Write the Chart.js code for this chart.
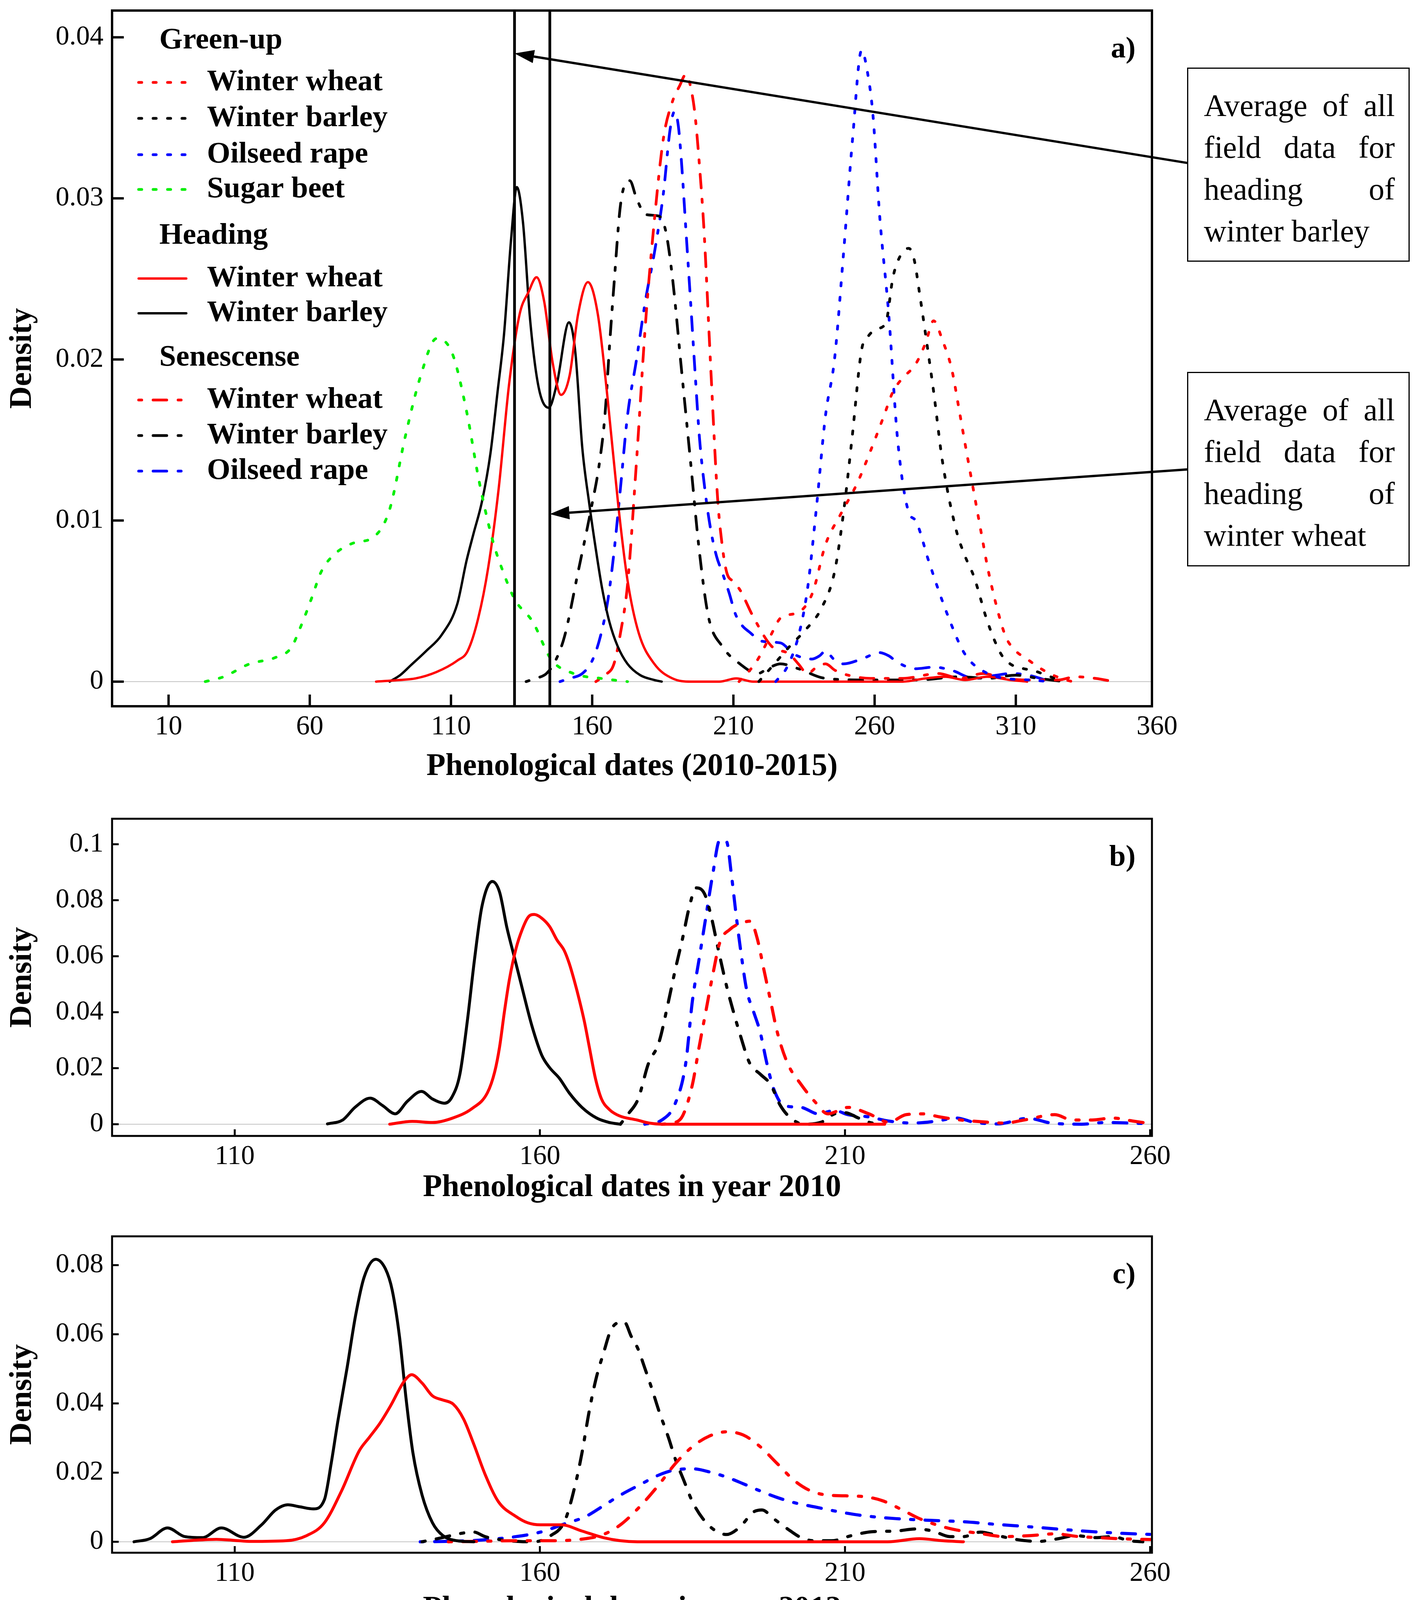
<!DOCTYPE html>
<html>
<head>
<meta charset="utf-8">
<script src="https://cdn.jsdelivr.net/npm/chart.js@4.4.1/dist/chart.umd.min.js"></script>
<style>
  body { margin: 0; background: #fff; width: 3639px; height: 4179px; position: relative; overflow: hidden; }
  canvas { position: absolute; left: 0; }
  .note {
    position: absolute; left: 3040px; width: 570px; box-sizing: border-box;
    border: 3px solid #000; background: #fff; z-index: 2;
    padding: 41px 35px 0 40px;
    font-family: "Liberation Serif", "Times New Roman", serif; font-size: 80px; line-height: 107px; color: #000;
  }
  .note div { text-align: justify; text-align-last: justify; white-space: nowrap; }
  .note div.last { text-align-last: left; }
</style>
</head>
<body>
<canvas id="chartA" width="3639" height="2040" style="top:0px"></canvas>
<canvas id="chartB" width="3639" height="1090" style="top:2040px"></canvas>
<canvas id="chartC" width="3639" height="1049" style="top:3130px"></canvas>

<div class="note" style="top:173px;height:497px">
  <div>Average of all</div><div>field data for</div><div>heading of</div><div class="last">winter barley</div>
</div>
<div class="note" style="top:952px;height:498px">
  <div>Average of all</div><div>field data for</div><div>heading of</div><div class="last">winter wheat</div>
</div>

<script>
// ---- labels / ticks ----
const crops = ['Winter wheat', 'Winter barley', 'Oilseed rape', 'Sugar beet'];
const stages = ['Green-up', 'Heading', 'Senescense'];
const xTicksA = [10, 60, 110, 160, 210, 260, 310, 360];
const yTicksA = [0, 0.01, 0.02, 0.03, 0.04];
const xTicksBC = [110, 160, 210, 260];
const yTicksB = [0, 0.02, 0.04, 0.06, 0.08, 0.1];
const yTicksC = [0, 0.02, 0.04, 0.06, 0.08];

// field averages of heading (day of year): barley, wheat
const avgHeading = [132.5, 145];
// arrows from the note boxes to the average lines: [tailX, tailY, tipX, tipY]
const arrows = [
  [370.7, 0.0322, avgHeading[0], 0.039],
  [370.7, 0.01317, avgHeading[1], 0.0104]
];

// ---- a) 2010-2015, [day, density] ----
const aGreenWheat = [[212,0],[218,0.0012],[223,0.0028],[227,0.004],[233,0.0043],[238,0.0055],[242.6,0.0085],[248,0.0104],[253.8,0.0123],[258.5,0.0143],[263.3,0.0165],[266.5,0.018],[269.7,0.0188],[274.5,0.0197],[278,0.021],[280.9,0.0224],[284,0.0212],[287.3,0.0194],[290,0.0168],[292,0.0148],[295.2,0.0117],[298,0.009],[300,0.0071],[303,0.0048],[306.4,0.0028],[310,0.0019],[314,0.0014],[318,0.0009],[322,0.0005],[326,0.0002],[330,0]];
const aGreenBarley = [[219,0],[224,0.001],[230,0.0022],[236,0.0033],[241,0.0045],[245.8,0.0068],[249,0.0105],[252,0.0151],[255.4,0.0206],[258,0.0215],[261,0.0219],[264,0.0223],[266.5,0.0251],[269,0.0264],[272.1,0.0269],[274,0.0262],[276,0.024],[278.5,0.021],[280.9,0.018],[284,0.0137],[288.9,0.0094],[292,0.0078],[295.2,0.0065],[300,0.0037],[304.8,0.0017],[308,0.0011],[312.8,0.0008],[316,0.0007],[320.7,0.0004],[327,0]];
const aGreenRape = [[225,0],[229,0.0009],[233,0.0028],[236.2,0.0057],[239.4,0.0108],[242.6,0.0165],[245.8,0.02],[249,0.0266],[252.2,0.0337],[255.4,0.0392],[257.5,0.0378],[259.4,0.0352],[261.8,0.0289],[265,0.0228],[268.1,0.0151],[272.1,0.0105],[274.5,0.01],[279.3,0.0074],[285.7,0.0042],[292,0.0017],[300,0.0005],[306.4,0.0002],[315,0.0001],[322,0]];
const aGreenBeet = [[23,0],[29.5,0.0003],[38.7,0.0011],[47.9,0.0015],[53.4,0.0021],[57,0.0035],[60.7,0.0052],[64,0.0068],[68.1,0.0078],[75.4,0.0086],[82.8,0.009],[88.3,0.0107],[93.8,0.0152],[99.3,0.019],[104.9,0.0213],[110.4,0.0204],[115.5,0.0168],[119.9,0.0125],[124.7,0.0088],[128.5,0.0068],[132.6,0.0051],[139,0.0037],[145.4,0.0014],[153.4,0.0005],[163,0.0002],[172.5,0]];
const aHeadWheat = [[83.5,0],[92,0.0001],[97.5,0.0002],[104.9,0.0006],[112.2,0.0013],[115.9,0.0019],[119.6,0.0039],[123.2,0.0071],[126.9,0.012],[130.6,0.0185],[134.3,0.0228],[137.5,0.0242],[140.3,0.0251],[143,0.0236],[146,0.0198],[149,0.0178],[152,0.019],[155,0.0228],[158.5,0.0248],[162,0.0228],[165.5,0.0175],[169.2,0.011],[172.5,0.0063],[176.5,0.003],[182,0.0011],[188.4,0.0002],[195,0],[205,0],[211,0.0002],[217,0],[270,0],[278,0.0002],[285,0.0003],[292,0.0001],[300,0.0003],[308,0.0001],[314,0]];
const aHeadBarley = [[88.3,0],[92,0.0004],[95.7,0.001],[101.2,0.0019],[106.7,0.0029],[112.2,0.0048],[115.5,0.0075],[118,0.0092],[121,0.0112],[124,0.0142],[126.5,0.018],[128.8,0.0216],[131.3,0.0275],[133.3,0.0307],[135.5,0.0285],[138,0.0225],[141,0.0183],[144.6,0.017],[147.5,0.0185],[151.8,0.0223],[154,0.0205],[156.5,0.0145],[159,0.011],[161.3,0.0082],[163.5,0.0058],[166.1,0.0037],[169,0.0022],[172.5,0.0011],[177,0.0004],[182,0.0001],[184.6,0]];
const aSenWheat = [[161.3,0],[164.5,0.0004],[167.7,0.0011],[170,0.003],[172.5,0.006],[175.7,0.0137],[178.9,0.0223],[182,0.0286],[185.2,0.0337],[188.4,0.036],[191,0.037],[193.2,0.0377],[195,0.0368],[196.4,0.0352],[198,0.032],[199.6,0.028],[202,0.0194],[204.4,0.0114],[206,0.0085],[207.6,0.0068],[210,0.0062],[212.3,0.0057],[217.1,0.004],[223.5,0.0022],[229.9,0.0017],[233,0.0011],[236.2,0.0005],[239.5,0.0009],[242.6,0.0011],[246,0.0007],[250.6,0.0004],[258.6,0.0002],[270,0.0002],[282.5,0.0005],[290.4,0.0002],[298.4,0.0005],[306,0.0002],[314.4,0.0001],[325,0.0001],[331,0.0003],[338.3,0.0002],[344.6,0]];
const aSenBarley = [[136.6,0],[140,0.0002],[143.8,0.0005],[147,0.0013],[150.2,0.0028],[155,0.0068],[159.7,0.0108],[162.5,0.0135],[164.5,0.0165],[166.2,0.021],[167.7,0.0246],[170.1,0.0297],[173.3,0.0311],[175.7,0.03],[178.9,0.029],[183.6,0.0289],[186,0.028],[188.4,0.0251],[191.6,0.0194],[194.8,0.0137],[198,0.008],[201.2,0.004],[206,0.0022],[212.3,0.0011],[218.7,0.0005],[222,0.0008],[226.7,0.0011],[233,0.0008],[242.6,0.0002],[258.6,0.0001],[275,0.0001],[290,0.0003],[300,0.0002],[310,0.0004],[318,0.0002],[327,0]];
const aSenRape = [[148.6,0],[152,0.0002],[156.5,0.0005],[160,0.0013],[162.9,0.0028],[165.5,0.005],[167.7,0.008],[170,0.012],[172.5,0.0165],[175.7,0.02],[178.9,0.0237],[182,0.0266],[185.2,0.0303],[187.6,0.0343],[189.2,0.0354],[190.5,0.0345],[191.6,0.0323],[193.2,0.028],[194.8,0.0237],[196.5,0.019],[198,0.0151],[200,0.0118],[202,0.0094],[204,0.0078],[206,0.0068],[208.5,0.0055],[210.7,0.0042],[213,0.0035],[215.5,0.0031],[220.3,0.0025],[226.7,0.0024],[231.5,0.0017],[237.8,0.0014],[240.5,0.0016],[242.6,0.0019],[245.5,0.0014],[249,0.0011],[255.4,0.0014],[261.8,0.0018],[265,0.0016],[268.1,0.0012],[274.5,0.0008],[280.9,0.0009],[287.3,0.0007],[295.2,0.0002],[303.2,0.0004],[308,0.0005],[314.4,0.0004],[322.3,0]];

// ---- b) 2010 ----
const bHeadWheat = [[135.4,0],[139.1,0.001],[142.4,0.0006],[145.6,0.0021],[148.9,0.0056],[151.4,0.0112],[152.6,0.0187],[153.4,0.0276],[154.2,0.0403],[155,0.0516],[156.1,0.0628],[157.1,0.0695],[158.1,0.074],[159.1,0.0749],[160.3,0.0736],[161.6,0.0706],[162.8,0.0658],[164,0.062],[164.8,0.0575],[165.6,0.0516],[166.5,0.0441],[167.3,0.0366],[168.1,0.0276],[169.1,0.0164],[170.1,0.009],[171.4,0.0052],[173,0.003],[175.9,0.0015],[177.9,0.0004],[180,0],[216.5,0]];
const bHeadBarley = [[125.2,0.0001],[127.7,0.0015],[129.7,0.006],[132.2,0.0093],[134.2,0.0067],[136.3,0.0037],[138.3,0.0082],[140.6,0.0117],[142.4,0.009],[144.4,0.0075],[145.6,0.0097],[146.9,0.0179],[148.1,0.0366],[149.3,0.059],[150.5,0.0777],[152.2,0.0867],[153.4,0.0829],[154.6,0.0702],[155.9,0.059],[157.1,0.0486],[158.7,0.0351],[160.3,0.0247],[161.6,0.0202],[163.2,0.0164],[164.8,0.0112],[166.9,0.006],[169.3,0.0022],[171.4,0.0006],[173.2,0]];
const bSenWheat = [[180,0],[181.7,0.0004],[183.4,0.003],[185,0.0142],[186.1,0.0276],[187.2,0.0403],[188.3,0.053],[189.5,0.065],[191.1,0.0695],[192.8,0.0717],[194.5,0.0725],[195.6,0.0665],[196.7,0.0553],[197.8,0.0441],[198.9,0.0329],[200.6,0.0217],[202.8,0.0142],[205,0.0082],[207.2,0.0037],[210.5,0.006],[213.9,0.0037],[217.2,0.0007],[220,0.0034],[222.8,0.0037],[225.5,0.0026],[228.9,0.0015],[232.2,0.0009],[236.1,0.0004],[239.4,0.0015],[244.4,0.0034],[247.2,0.0015],[250.5,0.0015],[253.8,0.0022],[257.2,0.0011],[260.5,0.0001]];
const bSenBarley = [[173.2,0],[174.5,0.0037],[176.1,0.009],[177.8,0.0217],[179.5,0.0291],[181.1,0.0441],[182.2,0.0553],[183.4,0.0665],[184.5,0.0777],[185.6,0.0844],[187,0.0822],[188.1,0.074],[189.2,0.0628],[190.6,0.0493],[191.7,0.0403],[192.8,0.0321],[194.4,0.0217],[196.1,0.0179],[197.8,0.0142],[199.4,0.0067],[201.1,0.0022],[203.3,0],[206.1,0.0007],[208.3,0.0037],[210,0.0041],[212.2,0.0022],[213.9,0.0007],[215.5,0]];
const bSenRape = [[177.2,0],[180,0.0015],[182.2,0.0075],[183.9,0.0217],[185,0.0441],[186.1,0.059],[187.2,0.074],[188.3,0.0889],[189.5,0.1016],[190.6,0.1009],[191.4,0.0889],[192.2,0.074],[193.1,0.059],[193.9,0.0478],[195,0.0403],[196.1,0.0329],[197.2,0.0217],[198.3,0.0127],[200,0.0067],[202.8,0.006],[205.6,0.0037],[208.3,0.0049],[210.5,0.0034],[213.9,0.0026],[217.2,0.0011],[221.1,0.0004],[225,0.0011],[228.3,0.0022],[231.1,0.0007],[235,0.0001],[240,0.0021],[243.8,0.0004],[248.8,0],[252.7,0.0006],[256.6,0.0004],[260.5,0.0001]];

// ---- c) 2012 ----
const cHeadWheat = [[99.8,0],[103,0.0004],[107,0.0007],[110,0.0004],[112.7,0.0001],[118.4,0.0003],[121.8,0.0018],[124.7,0.0055],[127.5,0.0147],[130.4,0.0263],[132.1,0.0303],[133.8,0.0343],[135.5,0.0392],[137.8,0.0465],[139,0.0483],[140.7,0.0459],[142.4,0.0422],[144.1,0.041],[145.8,0.0398],[147.5,0.0355],[149.2,0.0281],[151,0.0196],[153.2,0.0116],[156.1,0.0073],[158,0.0055],[160.1,0.0049],[163.5,0.0049],[166.9,0.0031],[170.4,0.0012],[173.2,0.0003],[176,0],[217,0],[222.2,0.0009],[226,0.0003],[229.4,0]];
const cHeadBarley = [[93.5,0],[96.1,0.0009],[99,0.004],[101.8,0.0015],[104.7,0.0012],[107.8,0.004],[111.5,0.0013],[114.4,0.0049],[116.7,0.0092],[118.7,0.0107],[120.7,0.0101],[122.9,0.0095],[124.7,0.0122],[125.8,0.0226],[126.9,0.0349],[128.4,0.0502],[129.8,0.0654],[131.2,0.0765],[133.1,0.0817],[134.7,0.0789],[135.8,0.0728],[137,0.0593],[138.1,0.041],[139.2,0.0257],[140.7,0.0135],[142.4,0.0055],[144.1,0.0018],[146.4,0.0003],[149.2,0]];
const cSenWheat = [[145,0],[149.2,0.0001],[156.1,0.0003],[161.8,0.0003],[167.5,0.0009],[170.4,0.0021],[173.2,0.0049],[176.4,0.0102],[179.5,0.0165],[182.2,0.0226],[185,0.0275],[187.8,0.0306],[190.6,0.0318],[193.3,0.0309],[196.1,0.0275],[198.9,0.0226],[201.7,0.0177],[204.4,0.0147],[207.2,0.0135],[212.8,0.0131],[216.1,0.0119],[219.4,0.0092],[222.2,0.0067],[225,0.0049],[228.3,0.0034],[232.2,0.0024],[236.1,0.0015],[240.5,0.0018],[244.4,0.0023],[248.3,0.0015],[251.6,0.0012],[254.9,0.0009],[261,0.0006]];
const cSenBarley = [[140.7,0],[144,0.0012],[147,0.0024],[149.2,0.0028],[151,0.0015],[155,0.0003],[159,0],[161.8,0.0018],[164.1,0.0061],[165.8,0.0165],[166.9,0.0257],[168.1,0.0379],[169.2,0.0471],[170.4,0.0544],[171.8,0.0618],[173.8,0.0636],[175,0.0593],[176.1,0.0557],[177.2,0.0502],[178.4,0.044],[179.5,0.0379],[181.1,0.03],[182.2,0.0239],[183.6,0.0177],[185,0.0116],[186.7,0.0067],[188.6,0.0034],[190.6,0.0021],[192.8,0.0043],[195,0.0086],[196.4,0.0092],[198.3,0.0067],[200.6,0.0037],[202.8,0.0012],[205,0.0003],[207.8,0.0003],[211.1,0.0018],[214.4,0.0029],[218.3,0.0031],[221.6,0.0037],[224.4,0.0031],[227.2,0.0015],[229.4,0.0015],[232.2,0.0028],[235,0.0018],[238.3,0.0006],[241.6,0.0001],[245,0.0009],[247.7,0.0018],[251.1,0.0012],[253.8,0.0015],[256.6,0.0003],[258.8,0]];
const cSenRape = [[140.4,0],[144.7,0.0001],[150.4,0.0005],[156.1,0.0015],[160.1,0.0028],[164.1,0.0052],[167.5,0.0073],[170.4,0.0104],[173.2,0.0135],[176.4,0.0165],[179.5,0.0193],[182.2,0.0208],[185,0.0211],[187.8,0.0202],[190.6,0.0187],[193.3,0.0168],[196.1,0.0147],[198.9,0.0128],[201.7,0.0113],[205,0.0101],[208.3,0.0089],[212.8,0.0076],[218.3,0.0067],[223.9,0.0062],[229.4,0.0058],[235,0.005],[240.5,0.0043],[246.1,0.0035],[251.6,0.0028],[257.2,0.0023],[261,0.0021]];

// ---- styles ----
const SERIF = '"Liberation Serif", "Times New Roman", serif';
const RED = '#ff0000', BLACK = '#000000', BLUE = '#0000ff', GREEN = '#00ee00';
// R-like lty with round caps: dotted and dot-dash
const DOT = [8, 29];
const DOTDASH = [8, 29, 35, 29];

function curve(label, pts, color, dash, width) {
  return {
    label: label,
    data: pts.map(p => ({ x: p[0], y: p[1] })),
    borderColor: color,
    borderDash: dash,
    borderWidth: width,
    borderCapStyle: 'round',
    borderJoinStyle: 'round',
    pointRadius: 0,
    fill: false,
    cubicInterpolationMode: 'monotone'
  };
}

// box, inward ticks, zero line and panel letter
const framePlugin = {
  id: 'frame',
  beforeDatasetsDraw(chart, args, opts) {
    const { ctx, chartArea: a, scales: { y } } = chart;
    const y0 = y.getPixelForValue(0);
    ctx.save();
    ctx.strokeStyle = '#c4c4c4';
    ctx.lineWidth = 2;
    ctx.beginPath(); ctx.moveTo(a.left, y0); ctx.lineTo(a.right, y0); ctx.stroke();
    ctx.restore();
  },
  afterDraw(chart, args, opts) {
    const { ctx, chartArea: a, scales: { x, y } } = chart;
    ctx.save();
    ctx.strokeStyle = '#000';
    ctx.lineWidth = opts.lineWidth;
    ctx.strokeRect(a.left, a.top, a.right - a.left, a.bottom - a.top);
    ctx.beginPath();
    x.ticks.forEach(t => {
      const px = x.getPixelForValue(t.value);
      if (px < a.left || px > a.right) return;
      ctx.moveTo(px, a.bottom); ctx.lineTo(px, a.bottom - opts.tick);
    });
    y.ticks.forEach(t => {
      const py = y.getPixelForValue(t.value);
      ctx.moveTo(a.left, py); ctx.lineTo(a.left + opts.tick, py);
    });
    ctx.stroke();
    ctx.fillStyle = '#000';
    ctx.font = 'bold 76px ' + SERIF;
    ctx.textAlign = 'right';
    ctx.textBaseline = 'middle';
    ctx.fillText(opts.tag, a.right - 42, a.top + 100);
    ctx.restore();
  }
};

// vertical average lines + arrows (panel a)
const fieldPlugin = {
  id: 'fieldAvg',
  afterDatasetsDraw(chart) {
    const { ctx, chartArea: a, scales: { x, y } } = chart;
    ctx.save();
    ctx.strokeStyle = '#000';
    ctx.fillStyle = '#000';
    ctx.lineWidth = 7;
    avgHeading.forEach(v => {
      const px = x.getPixelForValue(v);
      ctx.beginPath(); ctx.moveTo(px, a.top); ctx.lineTo(px, a.bottom); ctx.stroke();
    });
    ctx.lineWidth = 6;
    arrows.forEach(ar => {
      const x1 = x.getPixelForValue(ar[0]), y1 = y.getPixelForValue(ar[1]);
      const x2 = x.getPixelForValue(ar[2]), y2 = y.getPixelForValue(ar[3]);
      const ang = Math.atan2(y2 - y1, x2 - x1);
      const len = 50, half = 17;
      const bx = x2 - len * Math.cos(ang), by = y2 - len * Math.sin(ang);
      ctx.beginPath(); ctx.moveTo(x1, y1); ctx.lineTo(bx, by); ctx.stroke();
      ctx.beginPath();
      ctx.moveTo(x2, y2);
      ctx.lineTo(bx + half * Math.sin(ang), by - half * Math.cos(ang));
      ctx.lineTo(bx - half * Math.sin(ang), by + half * Math.cos(ang));
      ctx.closePath(); ctx.fill();
    });
    ctx.restore();
  }
};

// grouped legend (panel a)
const legendPlugin = {
  id: 'groupLegend',
  afterDraw(chart, args, opts) {
    const { ctx, chartArea: a } = chart;
    ctx.save();
    ctx.fillStyle = '#000';
    ctx.textAlign = 'left';
    ctx.textBaseline = 'middle';
    ctx.font = 'bold 77px ' + SERIF;
    ctx.lineCap = 'round';
    opts.rows.forEach((row, i) => {
      const yy = a.top + opts.rowY[i];
      if (typeof row === 'string') {
        ctx.fillText(row, a.left + opts.headX, yy);
        return;
      }
      const ds = chart.data.datasets[row];
      ctx.strokeStyle = ds.borderColor;
      ctx.lineWidth = ds.borderWidth;
      ctx.setLineDash(ds.borderDash || []);
      ctx.beginPath();
      ctx.moveTo(a.left + opts.lineX[0], yy);
      ctx.lineTo(a.left + opts.lineX[1], yy);
      ctx.stroke();
      ctx.setLineDash([]);
      ctx.fillText(ds.label, a.left + opts.textX, yy);
    });
    ctx.restore();
  }
};

function panel(id, datasets, o, extra) {
  return new Chart(document.getElementById(id), {
    type: 'line',
    data: { datasets: datasets },
    options: {
      responsive: false,
      devicePixelRatio: 1,
      animation: false,
      layout: { padding: { top: o.top, right: 689, left: 0, bottom: 0 } },
      plugins: {
        legend: { display: false },
        tooltip: { enabled: false },
        frame: { lineWidth: o.frameW, tick: o.tick, tag: o.tag },
        groupLegend: o.legend || {}
      },
      scales: {
        x: {
          type: 'linear',
          min: o.xMin, max: o.xMax,
          grid: { display: false, drawTicks: false },
          border: { display: false },
          afterBuildTicks: s => { s.ticks = o.xTicks.map(v => ({ value: v })); },
          afterFit: s => { s.height = o.xAxisH; s.paddingLeft = 0; s.paddingRight = 0; },
          ticks: { autoSkip: false, maxRotation: 0, padding: 12, color: '#000', font: { family: SERIF, size: 70 } },
          title: { display: true, text: o.xTitle, color: '#000', font: { family: SERIF, size: 80, weight: 'bold' }, padding: { top: 0, bottom: o.titlePad } }
        },
        y: {
          type: 'linear',
          min: o.yMin, max: o.yMax,
          grid: { display: false, drawTicks: false },
          border: { display: false },
          afterBuildTicks: s => { s.ticks = o.yTicks.map(v => ({ value: v })); },
          afterFit: s => { s.width = 287; s.paddingTop = 0; s.paddingBottom = 0; },
          ticks: { autoSkip: false, padding: 22, color: '#000', font: { family: SERIF, size: 70 }, callback: v => String(v) },
          title: { display: true, text: 'Density', color: '#000', font: { family: SERIF, size: 80, weight: 'bold' }, padding: { top: 10, bottom: 0 } }
        }
      }
    },
    plugins: [framePlugin].concat(extra || [])
  });
}

// a) all years
panel('chartA', [
  curve(crops[0], aGreenWheat, RED, DOT, 7),
  curve(crops[1], aGreenBarley, BLACK, DOT, 7),
  curve(crops[2], aGreenRape, BLUE, DOT, 7),
  curve(crops[3], aGreenBeet, GREEN, DOT, 7),
  curve(crops[0], aHeadWheat, RED, [], 6),
  curve(crops[1], aHeadBarley, BLACK, [], 6),
  curve(crops[0], aSenWheat, RED, DOTDASH, 7),
  curve(crops[1], aSenBarley, BLACK, DOTDASH, 7),
  curve(crops[2], aSenRape, BLUE, DOTDASH, 7)
], {
  top: 27, xAxisH: 232, titlePad: 29, frameW: 6, tick: 30, tag: 'a)',
  xMin: -10, xMax: 358.2, yMin: -0.00153, yMax: 0.04166,
  xTicks: xTicksA, yTicks: yTicksA, xTitle: 'Phenological dates (2010-2015)',
  legend: {
    rows: [stages[0], 0, 1, 2, 3, stages[1], 4, 5, stages[2], 6, 7, 8],
    rowY: [77, 184, 276, 369, 458, 577, 686, 775, 889, 997, 1088, 1179],
    headX: 121, lineX: [68, 190], textX: 243
  }
}, [fieldPlugin, legendPlugin]);

// b) 2010
panel('chartB', [
  curve(crops[0], bHeadWheat, RED, [], 7.5),
  curve(crops[1], bHeadBarley, BLACK, [], 7.5),
  curve(crops[0], bSenWheat, RED, DOTDASH, 8),
  curve(crops[1], bSenBarley, BLACK, DOTDASH, 8),
  curve(crops[2], bSenRape, BLUE, DOTDASH, 8)
], {
  top: 56, xAxisH: 222, titlePad: 41, frameW: 5, tick: 17, tag: 'b)',
  xMin: 89.9, xMax: 260.3, yMin: -0.0042, yMax: 0.1091,
  xTicks: xTicksBC, yTicks: yTicksB, xTitle: 'Phenological dates in year 2010'
});

// c) 2012
panel('chartC', [
  curve(crops[0], cHeadWheat, RED, [], 7.5),
  curve(crops[1], cHeadBarley, BLACK, [], 7.5),
  curve(crops[0], cSenWheat, RED, DOTDASH, 8),
  curve(crops[1], cSenBarley, BLACK, DOTDASH, 8),
  curve(crops[2], cSenRape, BLUE, DOTDASH, 8)
], {
  top: 35, xAxisH: 204, titlePad: 11, frameW: 5, tick: 17, tag: 'c)',
  xMin: 89.9, xMax: 260.3, yMin: -0.00317, yMax: 0.08833,
  xTicks: xTicksBC, yTicks: yTicksC, xTitle: 'Phenological dates in year 2012'
});
</script>
</body>
</html>
